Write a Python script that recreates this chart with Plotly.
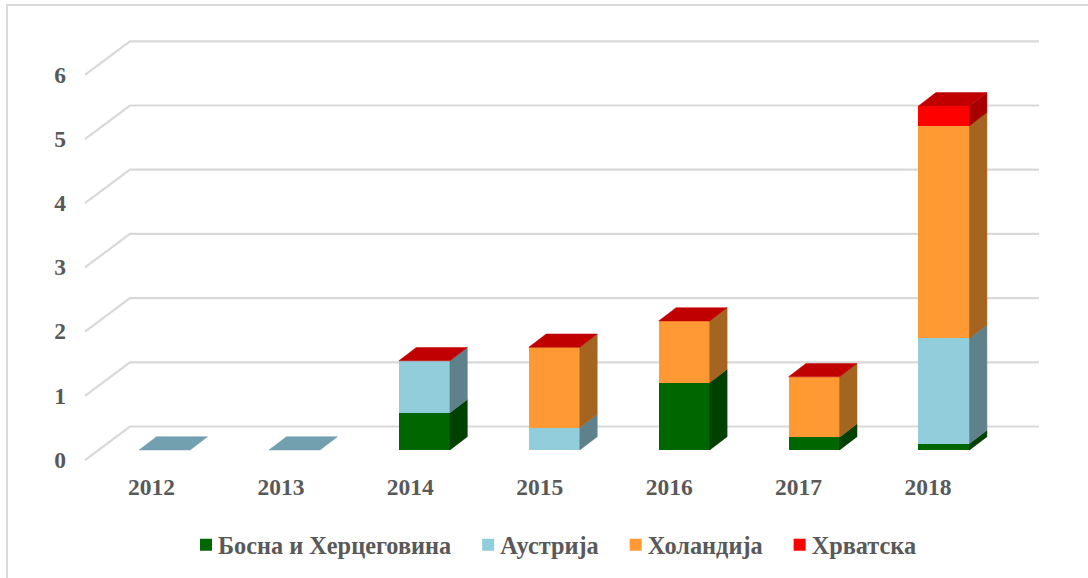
import plotly.graph_objects as go

years = ["2012", "2013", "2014", "2015", "2016", "2017", "2018"]
series_names = ["Босна и Херцеговина", "Аустрија", "Холандија", "Хрватска"]
bih = [0, 0, 0.58, 0, 1.05, 0.20, 0.10]
austria = [0, 0, 0.81, 0.35, 0, 0, 1.64]
netherlands = [0, 0, 0, 1.25, 0.96, 0.94, 3.31]
croatia = [0, 0, 0, 0, 0, 0, 0.31]
y_ticks = [0, 1, 2, 3, 4, 5, 6]

FRONT = ["#006600", "#92CDDC", "#FF9933", "#FF0000"]
SIDE = ["#004000", "#5E818B", "#A5641F", "#A60000"]
TOP_RED = "#C00000"
TOP_ZERO = "#73A0AE"
GRID = "#D9D9D9"
TEXT = "#595959"
FONT = "Liberation Serif"

W, H = 1088, 578
MB = 10
HP = H - MB
L, R, T, B = 67, 1050, 20, 470
UX, UY = 129.9, 64.2
X0, Y0 = 164.6, 450.0
xr = [(L - X0) / UX, (R - X0) / UX]
yr = [(Y0 - B) / UY, (Y0 - T) / UY]
xdom = [L / W, R / W]
ydom = [(HP - B) / HP, (HP - T) / HP]
BW = 0.393
DX, DY = 0.134, 0.207       # bar extrusion, data units
WX, WY = 0.3456, 0.522      # wall extrusion, data units
WF = 0.156                  # front of wall below value

fig = go.Figure()

gx0, gx1 = (85 - X0) / UX, (1039 - X0) / UX
for v in y_ticks:
    fig.add_trace(go.Scatter(
        x=[gx0, gx0 + WX, gx1], y=[v - WF, v - WF + WY, v - WF + WY],
        mode="lines", line=dict(color=GRID, width=2.2), showlegend=False, hoverinfo="skip"))

stacks = [bih, austria, netherlands, croatia]
n = len(years)
xs = list(range(n))

for name, vals, col in zip(series_names, stacks, FRONT):
    fig.add_trace(go.Bar(x=xs, y=vals, name=name, width=BW, marker=dict(color=col, line=dict(width=0)),
                         xaxis="x2", yaxis="y2"))

def poly(px, py, col):
    fig.add_trace(go.Scatter(x=px, y=py, mode="lines", fill="toself", fillcolor=col,
                             line=dict(color=col, width=0.5), showlegend=False, hoverinfo="skip",
                             xaxis="x2", yaxis="y2"))

for i in xs:
    base = 0.0
    xr_ = i + BW / 2
    xl_ = i - BW / 2
    for vals, col in zip(stacks, SIDE):
        v = vals[i]
        if v > 0:
            poly([xr_, xr_ + DX, xr_ + DX, xr_, xr_],
                 [base, base + DY, base + v + DY, base + v, base], col)
        base += v
    top_col = TOP_RED if base > 0 else TOP_ZERO
    poly([xl_, xr_, xr_ + DX, xl_ + DX, xl_], [base, base, base + DY, base + DY, base], top_col)

tick_font = dict(family=FONT, size=23.5, color=TEXT, weight="bold")
fig.update_layout(
    width=W, height=H, autosize=False, barmode="stack",
    paper_bgcolor="white", plot_bgcolor="rgba(0,0,0,0)",
    margin=dict(l=0, r=0, t=0, b=MB, pad=0),
    font=dict(family=FONT, color=TEXT, size=23),
    xaxis=dict(domain=xdom, range=xr, tickmode="array", tickvals=[i * 0.996 - 0.1 for i in xs], ticktext=years,
               showgrid=False, zeroline=False, showline=False, ticks="", ticklen=0, tickfont=tick_font),
    yaxis=dict(domain=ydom, range=yr, tickmode="array", tickvals=[v - 0.15 for v in y_ticks],
               ticktext=[str(v) for v in y_ticks],
               showgrid=False, zeroline=False, showline=False, ticks="", ticklen=0, tickfont=tick_font),
    xaxis2=dict(domain=xdom, range=xr, overlaying="x", visible=False),
    yaxis2=dict(domain=ydom, range=yr, overlaying="y", visible=False),
    legend=dict(orientation="h", x=174 / W, xanchor="left", y=1 - 545 / HP, yanchor="middle",
                itemwidth=34,
                font=dict(family=FONT, size=24.3, color=TEXT, weight="bold"),
                bgcolor="rgba(0,0,0,0)", traceorder="normal"),
    shapes=[dict(type="rect", xref="paper", yref="paper",
                 x0=7 / W, x1=1100 / W, y0=1 - 600 / HP, y1=1 - 5 / HP,
                 line=dict(color=GRID, width=2), fillcolor="rgba(0,0,0,0)", layer="below")],
)
post = """
document.body.style.margin='0';
document.body.style.overflow='hidden';
document.querySelectorAll('.legend .legendsymbols').forEach(function(s){
  s.setAttribute('transform','translate(10,0)');
});
"""
fig.write_html("out.html", config={"displayModeBar": False}, post_script=post)
